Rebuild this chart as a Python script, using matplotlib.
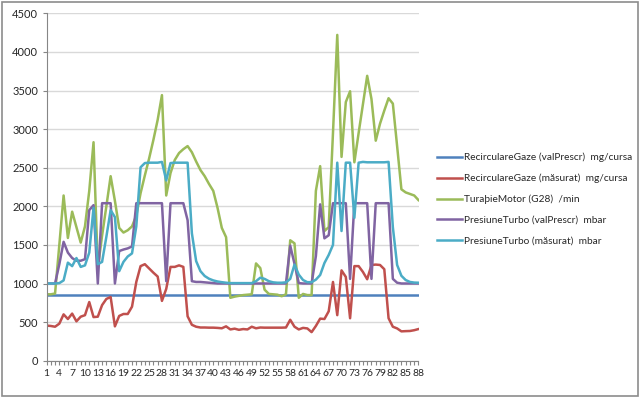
import numpy as np
import matplotlib
matplotlib.use('Agg')
from matplotlib import pyplot as plt
from matplotlib.patches import Rectangle

# date (88 de esantioane)
samples = list(range(1, 89))

recirc_prescr = [845] * 88

recirc_masurat = [
    455, 450, 440, 480, 600, 540, 610, 510, 570, 590,
    760, 565, 570, 720, 800, 825, 445, 580, 605, 605,
    700, 1020, 1225, 1250, 1195, 1140, 1090, 775, 930, 1215,
    1215, 1235, 1215, 575, 465, 440, 430, 430, 428, 428,
    425, 420, 445, 405, 415, 400, 410, 405, 440, 420,
    430, 428, 428, 428, 428, 428, 430, 530, 440, 405,
    425, 418, 370, 450, 545, 540, 640, 1020, 590, 1170,
    1085, 550, 1225, 1225, 1150, 1055, 1240, 1245, 1240, 1185,
    550, 440, 418, 380, 383, 385, 395, 410,
]

turatie = [
    860, 860, 870, 1500, 2140, 1590, 1930, 1730, 1530, 1740,
    2200, 2830, 1200, 1620, 2000, 2390, 2070, 1720, 1660, 1690,
    1740, 1880, 2170, 2400, 2620, 2860, 3120, 3440, 2140, 2430,
    2600, 2690, 2740, 2780, 2700, 2580, 2470, 2390, 2290, 2200,
    1980, 1720, 1600, 815, 830, 840, 850, 855, 860, 1260,
    1200, 920, 865, 860, 855, 835, 860, 1560, 1520, 815,
    865, 850, 850, 2200, 2520, 1680, 1730, 2950, 4220, 2640,
    3350, 3490, 2570, 2950, 3320, 3690, 3390, 2850, 3070, 3240,
    3400, 3330, 2780, 2220, 2180, 2160, 2140, 2080,
]

turbo_prescr = [
    1000, 1000, 1000, 1250, 1540, 1400, 1330, 1295, 1295, 1315,
    1950, 2015, 1000, 2040, 2040, 2040, 1000, 1420, 1440, 1455,
    1480, 2040, 2040, 2040, 2040, 2040, 2040, 2040, 1030, 2040,
    2040, 2040, 2040, 1820, 1030, 1020, 1020, 1015, 1010, 1005,
    1000, 1000, 1000, 1000, 1000, 1000, 1000, 1000, 1000, 1000,
    1000, 1000, 1000, 1000, 1000, 1000, 1000, 1490, 1255, 1005,
    1000, 1000, 1000, 1355, 2025, 1585, 1625, 2040, 2040, 2040,
    2040, 1060, 2040, 2040, 2040, 2040, 1060, 2040, 2040, 2040,
    2040, 1060, 1010, 1000, 1000, 1000, 1000, 1000,
]

turbo_masurat = [
    1000, 1000, 1000, 1005, 1040, 1270, 1225, 1330, 1215, 1235,
    1400, 1980, 1250, 1280, 1605, 1950, 1860, 1160, 1280, 1350,
    1390, 1740, 2505, 2560, 2565, 2565, 2565, 2575, 2335, 2560,
    2565, 2565, 2565, 2565, 1650, 1290, 1160, 1097, 1062, 1040,
    1026, 1017, 1010, 1005, 1005, 1005, 1005, 1005, 1005, 1030,
    1075, 1060, 1030, 1015, 1010, 1010, 1015, 1060, 1245, 1115,
    1045, 1017, 1017, 1050, 1110, 1265, 1370, 1500, 2565, 1680,
    2565, 2565, 1850, 2565, 2575, 2570, 2570, 2570, 2570, 2570,
    2575, 1730, 1240, 1100, 1045, 1020, 1012, 1010,
]

labels = [
    'RecirculareGaze (valPrescr)  mg/cursa',
    'RecirculareGaze (măsurat)  mg/cursa',
    'TuraþieMotor (G28)  /min',
    'PresiuneTurbo (valPrescr)  mbar',
    'PresiuneTurbo (măsurat)  mbar',
]
colors = ['#4F81BD', '#C0504D', '#9BBB59', '#8064A2', '#4BACC6']


def main():
    plt.rcParams['font.family'] = ['Lato', 'DejaVu Sans']
    W, H = 640, 398
    fig = plt.figure(figsize=(W / 100, H / 100), dpi=100)

    # zona graficului in pixeli
    left, right, top, bottom = 46.5, 418.5, 13.3, 360.7
    ax = fig.add_axes([left / W, 1 - bottom / H, (right - left) / W, (bottom - top) / H])

    series = [recirc_prescr, recirc_masurat, turatie, turbo_prescr, turbo_masurat]
    for vals, lab, col in zip(series, labels, colors):
        ax.plot(samples, vals, color=col, lw=1.8, label=lab, solid_joinstyle='round')

    ax.set_xlim(1, 88)
    ax.set_ylim(0, 4500)
    ax.set_yticks(np.arange(0, 4501, 500))
    ax.set_xticks(samples)
    ax.set_xticklabels([str(i) if (i - 1) % 3 == 0 else '' for i in samples])
    ax.yaxis.grid(True, color='#d9d9d9', lw=1)
    ax.set_axisbelow(True)

    for s in ['top', 'right']:
        ax.spines[s].set_visible(False)
    for s in ['left', 'bottom']:
        ax.spines[s].set_color('#868686')
        ax.spines[s].set_linewidth(0.8)
    ax.tick_params(axis='both', colors='#868686', labelcolor='#262626', labelsize=7.5,
                   length=3, width=0.8, pad=2)
    ax.tick_params(axis='y', pad=3, labelsize=8)
    ax.tick_params(axis='x', pad=3)

    fig.legend(loc='center left', bbox_to_anchor=(437 / W, 1 - 199 / H),
               frameon=False, fontsize=7.3, handlelength=2.5, handletextpad=0.2,
               labelspacing=1.12, borderpad=0, borderaxespad=0, labelcolor='#262626')

    fig.patches.append(Rectangle((1.5 / W, 2.5 / H), (W - 4) / W, (H - 4.5) / H,
                                 transform=fig.transFigure, fill=False,
                                 ec='#8c8c8c', lw=1.2))

    fig.savefig('out.png', dpi=100)


if __name__ == '__main__':
    main()
